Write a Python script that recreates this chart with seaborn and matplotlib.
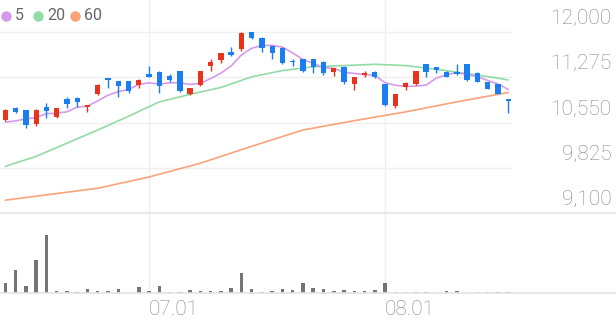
import numpy as np
import pandas as pd
import matplotlib
matplotlib.use("Agg")
import matplotlib.pyplot as plt
import matplotlib.transforms as mtransforms
from matplotlib.lines import Line2D
import seaborn as sns

# ---------------- data ----------------
opens = [10590, 10780, 10750, 10520, 10800, 10640, 10920, 10940, 10800, 11000,
         11260, 11210, 11210, 11150, 11320, 11360, 11290, 11370, 11000, 11150,
         11450, 11550, 11670, 11720, 11990, 11900, 11770, 11740, 11530, 11560,
         11560, 11520, 11360, 11440, 11160, 11310, 11360, 11160, 10810, 11110,
         11160, 11480, 11430, 11360, 11350, 11480, 11340, 11200, 11160, 10920]
highs = [10770, 10800, 10750, 10760, 10860, 10780, 10960, 10950, 10830, 11160,
         11260, 11220, 11220, 11240, 11450, 11370, 11320, 11380, 11100, 11370,
         11560, 11660, 11750, 11990, 12000, 11910, 11780, 11750, 11560, 11570,
         11570, 11530, 11420, 11450, 11280, 11370, 11370, 11170, 11010, 11200,
         11370, 11490, 11440, 11370, 11480, 11490, 11350, 11200, 11170, 10930]
lows = [10570, 10700, 10460, 10490, 10620, 10620, 10780, 10800, 10720, 10990,
        11100, 10960, 11020, 11100, 11270, 11020, 11200, 11030, 10990, 11140,
        11370, 11500, 11620, 11700, 11890, 11670, 11560, 11480, 11460, 11360,
        11340, 11310, 11290, 11160, 11070, 11270, 11260, 10820, 10780, 11070,
        11150, 11280, 11340, 11270, 11310, 11220, 11200, 11080, 11000, 10710]
closes = [10750, 10720, 10510, 10750, 10730, 10780, 10840, 10880, 10830, 11150,
          11230, 11130, 11050, 11230, 11280, 11130, 11230, 11050, 11100, 11370,
          11510, 11660, 11630, 11980, 11900, 11740, 11660, 11500, 11510, 11370,
          11430, 11340, 11420, 11200, 11280, 11340, 11280, 10830, 11000, 11180,
          11370, 11360, 11390, 11280, 11320, 11230, 11200, 11080, 11000, 10890]
prev_closes = [10625, 10350, 10640, 10420]   # closes before the first visible day
volumes = [107000, 233000, 73000, 330000, 580000, 20000, 20000, 13000, 43000, 23000,
           20000, 47000, 7000, 67000, 27000, 73000, 10000, 13000, 30000, 27000,
           20000, 20000, 50000, 200000, 45000, 10000, 20000, 47000, 30000, 103000,
           57000, 40000, 27000, 37000, 27000, 23000, 37000, 103000, 10000, 10000,
           10000, 10000, 7000, 27000, 27000, 7000, 13000, 10000, 10000, 13000]
ma20_days = [0, 3, 6, 9, 12, 15, 18, 21, 24, 27, 30, 33, 36, 39, 42, 45, 48, 49]
ma20_vals = [9850, 10010, 10220, 10430, 10650, 10880, 11000, 11110, 11280, 11380,
             11440, 11460, 11480, 11460, 11400, 11330, 11260, 11230]
ma60_days = [0, 9, 14, 19, 24, 29, 34, 39, 44, 49]
ma60_vals = [9310, 9500, 9680, 9900, 10170, 10430, 10580, 10720, 10880, 11030]
tick_days = [14, 37]
tick_labels = ["07.01", "08.01"]
price_ticks = [12000, 11275, 10550, 9825, 9100]
legend_labels = ["5", "20", "60"]

# ---------------- style ----------------
RED = "#e8341c"
BLUE = "#1a7ef0"
C5 = "#d69aec"
C20 = "#93dba6"
C60 = "#f8a37a"
GRID = "#efefef"
TXT = "#858585"

sns.set_theme(style="white")
plt.rcParams["font.family"] = ["Roboto", "DejaVu Sans"]

n = len(closes)
days = np.arange(n)
df = pd.DataFrame({"day": days, "open": opens, "high": highs, "low": lows,
                   "close": closes, "volume": volumes})
allc = pd.Series(prev_closes + closes)
df["ma5"] = allc.rolling(5).mean().iloc[len(prev_closes):].values

W, H = 616, 321
fig = plt.figure(figsize=(W / 100, H / 100), dpi=100)
fig.patch.set_facecolor("white")

sep_y = 213.3
base_y = 293.3
plot_w = 512
ax = fig.add_axes([0, (H - sep_y) / H, plot_w / W, sep_y / H])
axv = fig.add_axes([0, (H - base_y) / H, plot_w / W, (base_y - sep_y) / H])

px = 16.0  # price per pixel
ax.set_ylim(9100, 12000 + 31.7 * px)
xl = (-0.526, 49.37)
ax.set_xlim(*xl)
axv.set_xlim(*xl)
axv.set_ylim(0, 800000)

for a in (ax, axv):
    a.set_facecolor("none")
    for s in a.spines.values():
        s.set_visible(False)
    a.set_xticks([])
    a.set_yticks([])
    for d in tick_days:
        a.axvline(d, color=GRID, lw=1, zorder=0)

for p in price_ticks[:-1]:
    ax.axhline(p, color=GRID, lw=1, zorder=0)

# moving averages
sns.lineplot(x=ma60_days, y=ma60_vals, ax=ax, color=C60, lw=1.2, zorder=2)
sns.lineplot(x=ma20_days, y=ma20_vals, ax=ax, color=C20, lw=1.2, zorder=2)
sns.lineplot(data=df, x="day", y="ma5", ax=ax, color=C5, lw=1.2, zorder=2)

# candles
up = df["close"] >= df["open"]
cols = np.where(up, RED, BLUE)
ax.vlines(df["day"], df["low"], df["high"], colors=cols, lw=1.0, zorder=3)
body_bottom = np.minimum(df["open"], df["close"])
body_h = np.maximum(np.abs(df["close"] - df["open"]), px * 1.2)
ax.bar(df["day"], body_h, bottom=body_bottom, width=0.52, color=cols,
       linewidth=0, zorder=4)

# volume
axv.bar(df["day"], df["volume"], width=0.34, color="#747474", linewidth=0, zorder=3)

ax.set_xlabel("")
ax.set_ylabel("")
axv.set_xlabel("")
axv.set_ylabel("")

# separator & baseline
fig.add_artist(Line2D([0, 1], [(H - sep_y) / H] * 2, color="#e6e6e6", lw=1.2))
fig.add_artist(Line2D([0, 1], [(H - base_y) / H] * 2, color="#e3e3e3", lw=1.2))

# right price labels
tr = mtransforms.blended_transform_factory(ax.transAxes, ax.transData)
for p in price_ticks:
    ax.text(611.5 / plot_w, p + 13.6 * px, f"{p:,}", transform=tr, ha="right",
            va="center", fontsize=15, color=TXT, fontweight="light", clip_on=False)

# date labels
trx = mtransforms.blended_transform_factory(axv.transData, fig.transFigure)
for d, lab in zip(tick_days, tick_labels):
    axv.text(d - 0.02, (H - 309.5) / H, lab, transform=trx, ha="left", va="center",
             fontsize=15, color=TXT, fontweight="light", clip_on=False)

# legend
leg_items = [(5.5, 14.5, C5), (37.5, 47, C20), (74.5, 84, C60)]
for (dx, tx, c), lab in zip(leg_items, legend_labels):
    fig.add_artist(Line2D([dx / W], [(H - 15.5) / H], marker="o", markersize=6.5,
                          color=c, linestyle="none", transform=fig.transFigure))
    fig.text(tx / W, (H - 15.5) / H, lab, ha="left", va="center",
             fontsize=11.5, color="#666666")

fig.savefig("out.png", dpi=100, facecolor="white")
